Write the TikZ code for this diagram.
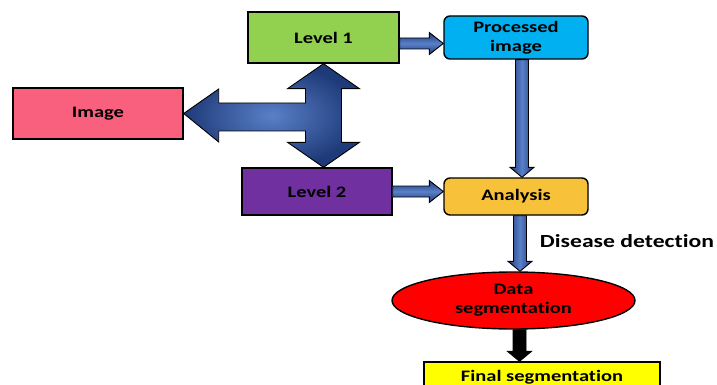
\documentclass[tikz,border=0pt]{standalone}
\usepackage{fontspec}
\setmainfont{Carlito}[FakeStretch=1.28, Ligatures=NoCommon]
\usetikzlibrary{calc, shapes.geometric}

\definecolor{pinkbox}{HTML}{F9607E}
\definecolor{greenbox}{HTML}{92D050}
\definecolor{bluebox}{HTML}{00B0F0}
\definecolor{purplebox}{HTML}{7030A0}
\definecolor{orangebox}{HTML}{F8C13A}
\definecolor{yellowbox}{HTML}{FFFF00}
\definecolor{arrdark}{HTML}{1E3A78}
\definecolor{arrlight}{HTML}{5A80C8}

\tikzset{
  box/.style={draw=black, line width=1.4pt, inner sep=0pt, align=center,
    font=\bfseries\fontsize{16}{19}\selectfont},
  hflow/.style={draw=black, line width=0.9pt, top color=arrdark, bottom color=arrdark, middle color=arrlight},
  vflow/.style={draw=black, line width=0.9pt, left color=arrdark, right color=arrdark, middle color=arrlight},
  blackflow/.style={draw=black, line width=0.9pt, fill=black}
}

% horizontal block arrow: from point to node
\newcommand{\harrow}[2]{%
  \draw[hflow] let \p1=(#1), \p2=(#2) in
    (\x1,\y1+5.5pt) -- (\x2-14pt,\y1+5.5pt) -- (\x2-14pt,\y1+11pt) -- (\x2,\y1)
    -- (\x2-14pt,\y1-11pt) -- (\x2-14pt,\y1-5.5pt) -- (\x1,\y1-5.5pt) -- cycle;}
% vertical block arrow: from point down to node
\newcommand{\varrow}[3]{%
  \draw[#3] let \p1=(#1), \p2=(#2) in
    (\x1-6.5pt,\y1) -- (\x1-6.5pt,\y2+10pt) -- (\x1-12pt,\y2+10pt) -- (\x1,\y2)
    -- (\x1+12pt,\y2+10pt) -- (\x1+6.5pt,\y2+10pt) -- (\x1+6.5pt,\y1) -- cycle;}

\begin{document}
\begin{tikzpicture}[x=1pt, y=-1pt]
\useasboundingbox (0,0) rectangle (717,385);
\clip (0,0) rectangle (717,385);

% Boxes
\node[box, fill=pinkbox, minimum width=170pt, minimum height=51pt] (img) at (98,113.5) {Image};
\node[box, fill=greenbox, minimum width=151pt, minimum height=51pt] (lv1) at (323.5,37.5) {Level 1};
\node[box, fill=bluebox, rounded corners=6pt, minimum width=144pt, minimum height=43pt] (proc) at (516,37.5) {Processed\\image};
\node[box, fill=purplebox, minimum width=150pt, minimum height=47pt] (lv2) at (317,191.5) {Level 2};
\node[box, fill=orangebox, rounded corners=6pt, minimum width=144pt, minimum height=37pt] (ana) at (516,196.5) {Analysis};
\node[box, ellipse, fill=red, minimum width=243pt, minimum height=57pt] (seg) at (513.5,300.5) {Data\\segmentation};
\node[box, fill=yellowbox, minimum width=236pt, minimum height=30pt] (fin) at (542,377) {Final segmentation};

% Label
\node[font=\bfseries\fontsize{18.5}{21}\selectfont] (dd) at (627,241) {Disease detection};

% Three-way arrow
\draw[draw=black, line width=0.9pt, shading=radial, inner color=arrlight, outer color=arrdark]
  let \p1=(lv1.south), \p2=(lv2.north), \p3=(img.east) in
  (\x1,\y1) -- (\x1+36pt,\y1-25pt) -- (\x1+18pt,\y1-25pt) -- (\x1+18pt,\y2+25pt)
  -- (\x1+36pt,\y2+25pt) -- (\x1,\y2) -- (\x1-36pt,\y2+25pt) -- (\x1-18pt,\y2+25pt)
  -- (\x1-18pt,\y3-17.5pt) -- (\x3+35pt,\y3-17.5pt) -- (\x3+35pt,\y3-28.5pt) -- (\x3,\y3)
  -- (\x3+35pt,\y3+24.5pt) -- (\x3+35pt,\y3+10.5pt) -- (\x1-18pt,\y3+10.5pt)
  -- (\x1-18pt,\y1-25pt) -- (\x1-36pt,\y1-25pt) -- cycle;

% Arrows
\harrow{[yshift=-6pt]lv1.east}{proc.west}
\harrow{lv2.east}{ana.west}
\varrow{[xshift=6pt]proc.south}{ana.north}{vflow}
\varrow{[xshift=4pt]ana.south}{seg.north}{vflow}
\varrow{[xshift=6pt]seg.south}{fin.north}{blackflow}
\end{tikzpicture}
\end{document}
